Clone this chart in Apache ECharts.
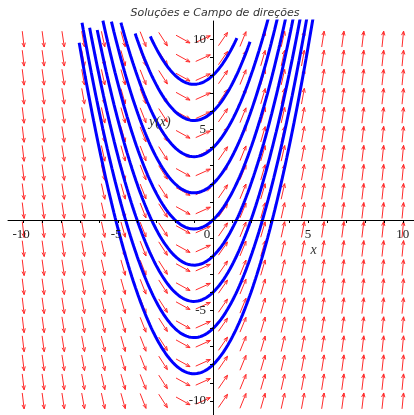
<!DOCTYPE html>
<html>
<head>
<meta charset="utf-8">
<script src="https://cdn.jsdelivr.net/npm/echarts@6/dist/echarts.min.js"></script>
<style>
  html, body { margin: 0; padding: 0; background: #fff; }
  #chart { width: 414px; height: 415px; }
</style>
</head>
<body>
<div id="chart"></div>
<script>
// dy/dx = x + 1, solutions through y(0) = y0
var initialValues = [-8, -6, -4, -2, 0, 2, 4, 6, 8];
var curveStart = [-7.05, -6.9, -6.5, -6.1, -5.8, -5.35, -4.85, -4.1, -3.3];
var curveEnd = [5.6, 5.2, 4.8, 4.4, 4.0, 3.6, 3.1, 1.95, 1.26];
var tickValues = [-10, -9, -8, -7, -6, -5, -4, -3, -2, -1, 0, 1, 2, 3, 4, 5, 6, 7, 8, 9, 10];
var xLabelValues = [-10, -5, 0, 5, 10];
var yLabelValues = [-10, -5, 5, 10];
var fieldRange = [-10, 10];
var fieldCount = 20;
var titleText = 'Soluções e Campo de direções';

function slope(x, y) {
    return x + 1;
}

function solution(x, y0) {
    return y0 + x + x * x / 2;
}

function fieldData() {
    let pts = [];
    let step = (fieldRange[1] - fieldRange[0]) / (fieldCount - 1);
    for (let i = 0; i < fieldCount; i++) {
        for (let j = 0; j < fieldCount; j++) {
            pts.push([fieldRange[0] + i * step, fieldRange[0] + j * step]);
        }
    }
    return pts;
}

function curveData(k) {
    let pts = [];
    let n = 200;
    let a = curveStart[k], b = curveEnd[k];
    for (let i = 0; i <= n; i++) {
        let x = a + (b - a) * i / n;
        pts.push([x, solution(x, initialValues[k])]);
    }
    return pts;
}

function renderArrow(params, api) {
    let x = api.value(0), y = api.value(1);
    let c = api.coord([x, y]);
    let p = api.coord([x + 0.1, y + 0.1 * slope(x, y)]);
    let dx = p[0] - c[0], dy = p[1] - c[1];
    let len = Math.sqrt(dx * dx + dy * dy);
    let ux = dx / len, uy = dy / len;
    let half = 8;
    let x1 = c[0] - ux * half, y1 = c[1] - uy * half;
    let x2 = c[0] + ux * half, y2 = c[1] + uy * half;
    let h = 4.5, a = 0.38;
    let bx = -ux, by = -uy;
    let l1 = [x2 + h * (bx * Math.cos(a) - by * Math.sin(a)), y2 + h * (bx * Math.sin(a) + by * Math.cos(a))];
    let l2 = [x2 + h * (bx * Math.cos(-a) - by * Math.sin(-a)), y2 + h * (bx * Math.sin(-a) + by * Math.cos(-a))];
    let style = { stroke: '#ff2a2a', lineWidth: 1, fill: null };
    return {
        type: 'group',
        children: [
            { type: 'line', shape: { x1: x1, y1: y1, x2: x2, y2: y2 }, style: style },
            { type: 'polyline', shape: { points: [l1, [x2, y2], l2] }, style: style }
        ]
    };
}

var chart = echarts.init(document.getElementById('chart'));

let series = [{
    type: 'custom',
    renderItem: renderArrow,
    data: fieldData(),
    silent: true,
    z: 1
}];
for (let k = 0; k < initialValues.length; k++) {
    series.push({
        type: 'line',
        data: curveData(k),
        showSymbol: false,
        silent: true,
        lineStyle: { color: '#0000ff', width: 3 },
        z: 2
    });
}

chart.setOption({
    animation: false,
    grid: { left: 8, top: 21, width: 410, height: 398, containLabel: false, outerBoundsMode: 'none' },
    xAxis: {
        type: 'value',
        min: -10.8,
        max: 10.8,
        z: 5,
        axisLine: { onZero: true, lineStyle: { color: '#000', width: 1 } },
        axisTick: { show: true, length: 3, customValues: tickValues, lineStyle: { color: '#000' } },
        axisLabel: { show: false },
        splitLine: { show: false }
    },
    yAxis: {
        type: 'value',
        min: -11,
        max: 11,
        z: 5,
        axisLine: { onZero: true, lineStyle: { color: '#000', width: 1 } },
        axisTick: { show: true, length: 3, customValues: tickValues, lineStyle: { color: '#000' } },
        axisLabel: { show: false },
        splitLine: { show: false }
    },
    series: series
});

// tick labels and axis names placed next to the zero lines
let labelStyle = { fontFamily: 'Liberation Serif', fontSize: 13, fill: '#222' };
let graphics = [{
    type: 'text', x: 215, y: 13, z: 10,
    style: { text: titleText, fontFamily: 'DejaVu Sans', fontStyle: 'italic', fontSize: 11, fill: '#333', align: 'center', verticalAlign: 'middle' }
}];
xLabelValues.forEach(function (v) {
    let p = chart.convertToPixel({ gridIndex: 0 }, [v, 0]);
    graphics.push({
        type: 'text', x: p[0] - (v === 0 ? 6 : (v < 0 ? 2 : 0)), y: p[1] + 15, z: 10,
        style: Object.assign({ text: String(v), align: 'center', verticalAlign: 'middle' }, labelStyle)
    });
});
yLabelValues.forEach(function (v) {
    let p = chart.convertToPixel({ gridIndex: 0 }, [0, v]);
    graphics.push({
        type: 'text', x: p[0] - 7, y: p[1], z: 10,
        style: Object.assign({ text: String(v), align: 'right', verticalAlign: 'middle' }, labelStyle)
    });
});
let xName = chart.convertToPixel({ gridIndex: 0 }, [5.3, -1.65]);
let yName = chart.convertToPixel({ gridIndex: 0 }, [-2.8, 5.4]);
graphics.push({
    type: 'text', x: xName[0], y: xName[1], z: 10,
    style: { text: 'x', fontFamily: 'Liberation Serif', fontStyle: 'italic', fontSize: 14, fill: '#333', align: 'center', verticalAlign: 'middle' }
});
graphics.push({
    type: 'text', x: yName[0], y: yName[1], z: 10,
    style: { text: 'y(x)', fontFamily: 'Liberation Serif', fontStyle: 'italic', fontSize: 14, fill: '#333', align: 'center', verticalAlign: 'middle' }
});
chart.setOption({ graphic: graphics });
</script>
</body>
</html>
